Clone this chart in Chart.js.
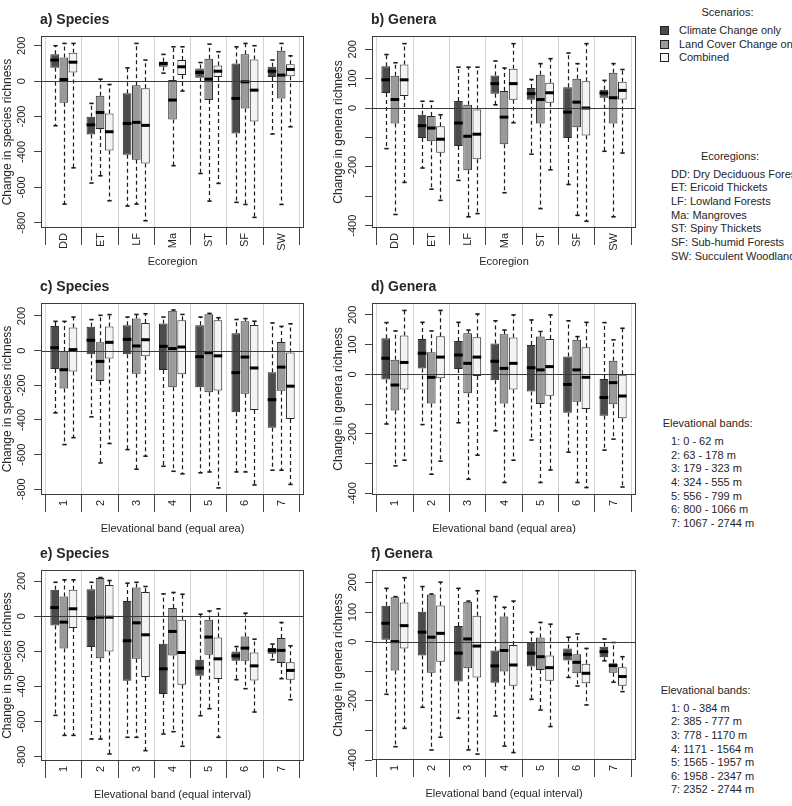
<!DOCTYPE html>
<html><head><meta charset="utf-8">
<script src="https://cdn.jsdelivr.net/npm/chart.js@4.4.0/dist/chart.umd.min.js"></script>
<style>
body{margin:0;background:#fff;width:792px;height:806px;overflow:hidden;position:relative;font-family:"Liberation Sans",Arial,sans-serif;color:#262626}
canvas{position:absolute}
.t{position:absolute;font-size:11px;white-space:nowrap;line-height:13px;height:13px}
.c{transform:translateX(-50%)}
.sq{position:absolute;width:7px;height:7px;border:1px solid #222}
</style></head><body>
<script>
// ---------- categories & labels ----------
const ecoregions = ['DD','ET','LF','Ma','ST','SF','SW'];
const bands = ['1','2','3','4','5','6','7'];
const scenarios = ['Climate Change only','Land Cover Change only','Combined'];
const speciesTickValues = [200,0,-200,-400,-600,-800];
const speciesTickLabels = ['200','0','-200','-400','-600','-800'];
const generaTickValues = [200,100,0,-100,-200,-300,-400];
const generaTickLabels = ['200','100','0','','-200','','-400'];

// ---------- data: each box = [lower whisker, Q1, median, Q3, upper whisker] ----------
// a) Species by ecoregion
const spEcoClimate = [[-252,75,119,152,200],[-576,-301,-247,-201,-126],[-706,-416,-239,-68,75],[45,81,100,109,151],[-522,19,49,72,105],[-685,-296,-98,100,194],[-299,24,56,81,119]];
const spEcoLand    = [[-695,-122,9,134,213],[-535,-271,-177,-83,11],[-695,-444,-233,-24,213],[-478,-217,-107,6,194],[-678,-107,11,126,209],[-697,-154,-4,152,213],[-697,-98,34,171,213]];
const spEcoComb    = [[-490,49,107,160,213],[-676,-392,-286,-183,-19],[-789,-465,-250,-40,119],[-56,34,81,119,194],[-578,24,56,89,166],[-770,-228,-51,122,200],[-258,28,66,96,143]];
// b) Genera by ecoregion
const genEcoClimate = [[-138,51,96,142,182],[-204,-102,-60,-23,23],[-246,-129,-51,24,139],[11,49,83,111,160],[-157,28,49,68,97],[-260,-102,-14,71,187],[-147,35,51,62,94]];
const genEcoLand    = [[-362,-53,29,110,154],[-276,-113,-68,-27,23],[-370,-212,-96,11,139],[-288,-123,-31,58,136],[-342,-53,29,113,151],[-365,-65,20,100,151],[-370,-53,35,120,151]];
const genEcoComb    = [[-253,41,96,148,219],[-314,-152,-106,-62,-23],[-359,-174,-89,-5,139],[-50,28,83,134,219],[-210,18,52,86,168],[-385,-93,0,91,219],[-153,29,60,89,131]];
// c) Species by elevational band (equal area)
const spAreaClimate = [[-359,-106,17,142,169],[-382,-21,60,138,179],[-571,-21,65,146,194],[-667,-111,25,156,194],[-705,-211,-35,146,194],[-700,-355,-127,100,180],[-690,-445,-283,-125,160]];
const spAreaLand    = [[-542,-219,-110,-2,169],[-648,-175,-62,48,204],[-684,-133,27,185,209],[-696,-211,12,230,235],[-700,-240,-12,210,215],[-700,-248,-37,170,185],[-690,-232,-95,50,140]];
const spAreaComb    = [[-502,-121,6,133,194],[-536,-46,48,140,208],[-609,-33,63,160,213],[-711,-136,21,175,209],[-792,-230,-30,175,190],[-775,-343,-100,148,170],[-772,-395,-205,-10,155]];
// d) Genera by elevational band (equal area)
const genAreaClimate = [[-167,-17,54,121,174],[-169,20,71,119,175],[-163,18,65,112,175],[-190,-20,44,104,180],[-221,-58,22,99,183],[-262,-129,-34,60,180],[-255,-139,-78,-16,174]];
const genAreaLand    = [[-308,-122,-36,49,146],[-336,-98,-10,74,146],[-353,-64,37,138,149],[-364,-98,20,135,149],[-364,-100,15,127,144],[-364,-92,15,116,127],[-218,-101,-28,46,116]];
const genAreaComb    = [[-289,-51,40,131,215],[-292,-13,58,128,215],[-272,-6,58,125,203],[-289,-51,37,124,200],[-322,-72,26,119,200],[-381,-117,-10,91,175],[-379,-148,-73,0,155]];
// e) Species by elevational band (equal interval)
const spIntClimate = [[-565,-53,49,150,193],[-700,-176,-13,154,193],[-690,-368,-140,87,188],[-671,-444,-300,-157,127],[-567,-339,-296,-248,11],[-362,-254,-226,-201,-173],[-248,-214,-195,-182,-159]];
const spIntLand    = [[-679,-184,-34,112,207],[-700,-239,-6,218,220],[-690,-243,-38,163,193],[-658,-224,-87,46,135],[-527,-220,-119,-21,30],[-413,-254,-182,-116,17],[-356,-267,-195,-125,-36]];
const spIntComb    = [[-679,-68,42,150,207],[-785,-201,-6,178,203],[-766,-347,-106,137,169],[-741,-391,-207,-21,125],[-690,-358,-243,-121,42],[-546,-366,-283,-207,-131],[-476,-362,-309,-262,-169]];
// f) Genera by elevational band (equal interval)
const genIntClimate = [[-178,6,62,121,180],[-222,-47,32,101,186],[-259,-135,-39,53,180],[-251,-139,-82,-30,152],[-195,-84,-39,0,32],[-121,-64,-43,-23,15],[-65,-53,-34,-17,9]];
const genIntLand    = [[-355,-98,0,150,152],[-366,-105,15,159,161],[-366,-90,9,135,137],[-353,-101,-30,85,116],[-231,-96,-51,14,65],[-150,-107,-70,-43,26],[-137,-105,-81,-73,-3]];
const genIntComb    = [[-293,-23,54,132,216],[-323,-68,28,122,201],[-380,-121,-15,87,172],[-375,-149,-79,-11,137],[-287,-132,-88,-47,59],[-214,-141,-107,-75,-23],[-169,-149,-118,-87,-51]];

// ---------- styling ----------
const fills = ['#4b4b4b','#9a9a9a','#f3f3f3'];
const FONT = '"Liberation Sans", Arial, sans-serif';
const TXT = '#262626';

const panels = [
  {title:'a) Species', ytitle:'Change in species richness', xtitle:'Ecoregion', cats:ecoregions, series:[spEcoClimate,spEcoLand,spEcoComb], tv:speciesTickValues, tl:speciesTickLabels, yMin:-830, yMax:255, area:[41,36,304,228]},
  {title:'b) Genera', ytitle:'Change in genera richness', xtitle:'Ecoregion', cats:ecoregions, series:[genEcoClimate,genEcoLand,genEcoComb], tv:generaTickValues, tl:generaTickLabels, yMin:-408, yMax:245, area:[372,36,636,228]},
  {title:'c) Species', ytitle:'Change in species richness', xtitle:'Elevational band (equal area)', cats:bands, series:[spAreaClimate,spAreaLand,spAreaComb], tv:speciesTickValues, tl:speciesTickLabels, yMin:-833, yMax:275, area:[41,303,304,495]},
  {title:'d) Genera', ytitle:'Change in genera richness', xtitle:'Elevational band (equal area)', cats:bands, series:[genAreaClimate,genAreaLand,genAreaComb], tv:generaTickValues, tl:generaTickLabels, yMin:-406, yMax:240, area:[372,303,636,495]},
  {title:'e) Species', ytitle:'Change in species richness', xtitle:'Elevational band (equal interval)', cats:bands, series:[spIntClimate,spIntLand,spIntComb], tv:speciesTickValues, tl:speciesTickLabels, yMin:-825, yMax:263, area:[41,570,304,761]},
  {title:'f) Genera', ytitle:'Change in genera richness', xtitle:'Elevational band (equal interval)', cats:bands, series:[genIntClimate,genIntLand,genIntComb], tv:generaTickValues, tl:generaTickLabels, yMin:-400, yMax:242, area:[372,570,636,760]}
];

function seg(ctx,x1,y1,x2,y2){ctx.beginPath();ctx.moveTo(x1,y1);ctx.lineTo(x2,y2);ctx.stroke();}

const boxPlugin = {
  id:'boxplot',
  afterDatasetsDraw(chart){
    const {ctx, chartArea:a, scales:{y}} = chart;
    ctx.save();
    chart.data.datasets.forEach((ds,di)=>{
      const meta = chart.getDatasetMeta(di);
      meta.data.forEach((el,i)=>{
        const st = ds.stats[i];
        const cx = Math.round(el.x)+0.5, hw = el.width/2;
        const p = st.map(v=>y.getPixelForValue(v));
        ctx.strokeStyle='#1a1a1a'; ctx.lineWidth=1.2; ctx.setLineDash([4,3]);
        seg(ctx,cx,p[3],cx,p[4]); seg(ctx,cx,p[1],cx,p[0]);
        ctx.setLineDash([]); ctx.lineWidth=1.6;
        seg(ctx,cx-hw/2,p[4],cx+hw/2,p[4]); seg(ctx,cx-hw/2,p[0],cx+hw/2,p[0]);
        ctx.lineWidth=3; ctx.strokeStyle='#000';
        seg(ctx,el.x-hw,p[2],el.x+hw,p[2]);
      });
    });
    const y0 = Math.round(y.getPixelForValue(0))+0.5;
    ctx.strokeStyle='#3a3a3a'; ctx.lineWidth=1;
    seg(ctx,a.left,y0,a.right,y0);
    ctx.strokeStyle='#3c3c3c';
    ctx.strokeRect(a.left+0.5,a.top+0.5,a.right-a.left-1,a.bottom-a.top-1);
    ctx.restore();
  },
  afterDraw(chart){
    const {ctx, chartArea:a, scales:{x,y}} = chart;
    const p = chart.options.plugins.boxplot;
    ctx.save();
    ctx.fillStyle = TXT;
    ctx.font = 'bold 14px '+FONT; ctx.textAlign='left'; ctx.textBaseline='middle';
    ctx.fillText(p.title, a.left-1, a.top-15.5);
    ctx.font = '11px '+FONT; ctx.textAlign='center';
    p.tv.forEach((v,i)=>{
      if(!p.tl[i]) return;
      ctx.save(); ctx.translate(a.left-19, y.getPixelForValue(v)); ctx.rotate(-Math.PI/2);
      ctx.fillText(p.tl[i],0,0); ctx.restore();
    });
    ctx.font = '12px '+FONT;
    ctx.save(); ctx.translate(a.left-33,(a.top+a.bottom)/2); ctx.rotate(-Math.PI/2);
    ctx.fillText(p.ytitle,0,0); ctx.restore();
    ctx.font = '11px '+FONT; ctx.textAlign='right';
    p.cats.forEach((c,i)=>{
      ctx.save(); ctx.translate(x.getPixelForValue(i+1)+0.5, a.bottom+5); ctx.rotate(-Math.PI/2);
      ctx.fillText(c,0,0); ctx.restore();
    });
    ctx.textAlign='center';
    ctx.fillText(p.xtitle,(a.left+a.right)/2,a.bottom+34);
    ctx.restore();
  }
};

panels.forEach(p=>{
  const [L,T,R,B] = p.area;
  const W = R-L+57, H = B-T+78;
  const cv = document.createElement('canvas');
  cv.width=W; cv.height=H;
  cv.style.left=(L-41)+'px'; cv.style.top=(T-36)+'px';
  cv.style.width=W+'px'; cv.style.height=H+'px';
  document.body.appendChild(cv);
  const bounds = [];
  for(let i=0;i<=p.cats.length;i++) bounds.push(i+0.5);
  new Chart(cv,{
    type:'bar',
    data:{datasets:p.series.map((s,k)=>({
      label:scenarios[k],
      data:s.map((b,i)=>({x:i+1,y:[b[1],b[3]]})),
      stats:s,
      backgroundColor:fills[k], borderColor:'#2a2a2a', borderWidth:1, borderSkipped:false,
      categoryPercentage:0.76, barPercentage:0.94
    }))},
    options:{
      responsive:false, animation:false, devicePixelRatio:1,
      layout:{padding:{left:0,top:36,right:16,bottom:0}},
      plugins:{legend:{display:false},tooltip:{enabled:false},
        boxplot:{title:p.title,ytitle:p.ytitle,xtitle:p.xtitle,cats:p.cats,tv:p.tv,tl:p.tl}},
      scales:{
        x:{type:'linear',min:0.37,max:7.63,offset:false,
           afterBuildTicks:s=>{s.ticks=bounds.map(v=>({value:v}));},
           afterFit:s=>{s.height=42;},
           ticks:{display:false},
           grid:{offset:false,color:'#d4d4d4',tickColor:'#444',tickLength:17,drawTicks:true},
           border:{display:false}},
        y:{type:'linear',min:p.yMin,max:p.yMax,
           afterBuildTicks:s=>{s.ticks=p.tv.map(v=>({value:v}));},
           afterFit:s=>{s.width=41;},
           ticks:{display:false},
           grid:{offset:false,color:'rgba(0,0,0,0)',tickColor:'#444',tickLength:7,drawTicks:true},
           border:{display:false}}
      }
    },
    plugins:[boxPlugin]
  });
});

// ---------- side legends (HTML text) ----------
function addText(txt,left,cy,center){
  const d=document.createElement('div'); d.className='t'+(center?' c':'');
  d.textContent=txt; d.style.left=left+'px'; d.style.top=(cy-6.5)+'px';
  document.body.appendChild(d);
}
addText('Scenarios:',727.5,12.7,true);
const legY=[30.7,44.2,57.7];
scenarios.forEach((s,k)=>{
  const q=document.createElement('div'); q.className='sq';
  q.style.left='660px'; q.style.top=(legY[k]-4.5)+'px'; q.style.background=fills[k];
  document.body.appendChild(q);
  addText(s,679,legY[k],false);
});
const ecoregionNames = ['DD: Dry Deciduous Forests','ET: Ericoid Thickets','LF: Lowland Forests','Ma: Mangroves','ST: Spiny Thickets','SF: Sub-humid Forests','SW: Succulent Woodlands'];
const bandsEqualArea = ['1: 0 - 62 m','2: 63 - 178 m','3: 179 - 323 m','4: 324 - 555  m','5: 556 - 799 m','6: 800 - 1066 m','7: 1067 - 2744  m'];
const bandsEqualInterval = ['1: 0 - 384 m','2: 385 - 777 m','3: 778 - 1170 m','4: 1171 - 1564 m','5: 1565 - 1957 m','6: 1958 - 2347 m','7: 2352 - 2744 m'];
addText('Ecoregions:',730,156,true);
ecoregionNames.forEach((s,i)=>addText(s,671,174+i*13.7,false));
addText('Elevational bands:',662.7,423.3,false);
bandsEqualArea.forEach((s,i)=>addText(s,671,441.7+i*13.6,false));
addText('Elevational bands:',660.7,690.7,false);
bandsEqualInterval.forEach((s,i)=>addText(s,671,708.3+i*13.6,false));
</script>
</body></html>
